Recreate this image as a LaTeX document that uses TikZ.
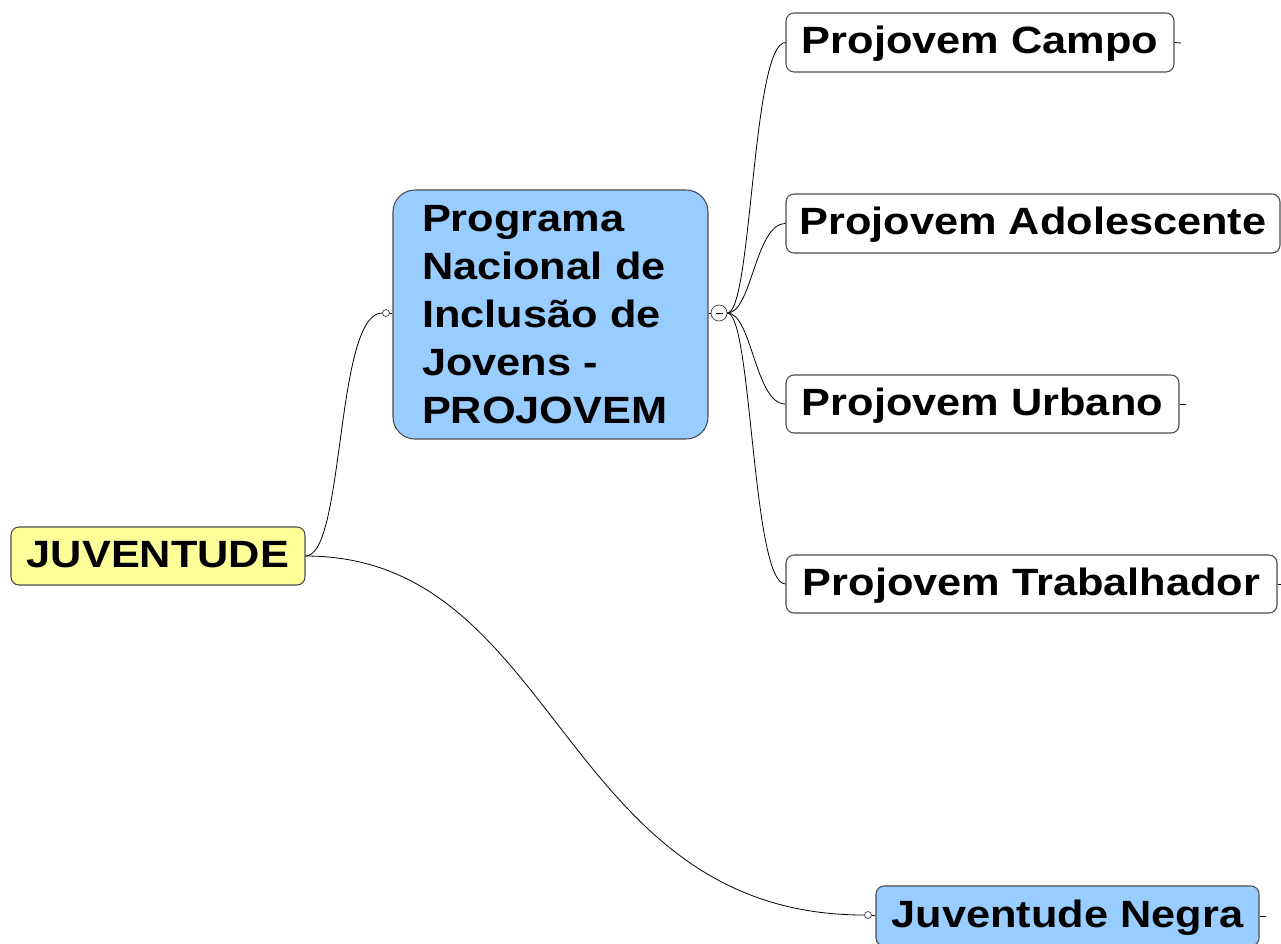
\documentclass[tikz,border=0pt]{standalone}
\usepackage{fontspec}
\setmainfont[FakeStretch=1.14]{Liberation Sans}
\begin{document}
\begin{tikzpicture}[x=0.75pt,y=-0.75pt,
  box/.style={draw=black!70, line width=0.8pt, rounded corners=8*0.75pt, inner sep=0pt,
     font=\fontsize{28.5}{36}\selectfont\bfseries},
  single/.style={box, text height=21.4pt, text depth=4.8pt},
  white/.style={single, fill=white},
  conn/.style={draw=black, line width=0.6pt},
  knob/.style={circle, draw=black!80, fill=white, line width=0.5pt, inner sep=0pt, minimum size=7*0.75pt},
]
\useasboundingbox (0,0) rectangle (1281,943);
\definecolor{nodeblue}{HTML}{99CCFF}
\definecolor{nodeyellow}{HTML}{FFFF99}

\node[single, fill=nodeyellow, minimum width=294*0.75pt, minimum height=58*0.75pt] (juv) at (158,556) {JUVENTUDE};

\node[box, fill=nodeblue, rounded corners=22*0.75pt, minimum width=315*0.75pt, minimum height=249*0.75pt,
      text width=257*0.75pt, align=left] (prog) at (550.5,314.5)
  {Programa\\Nacional de\\Inclusão de\\Jovens -\\PROJOVEM};

\node[white, minimum width=388*0.75pt, minimum height=59*0.75pt] (campo) at (980,42.5) {Projovem Campo};
\node[white, minimum width=494*0.75pt, minimum height=59*0.75pt] (adol) at (1033,223.5) {Projovem Adolescente};
\node[white, minimum width=393*0.75pt, minimum height=58*0.75pt] (urb) at (982.5,404) {Projovem Urbano};
\node[white, minimum width=491*0.75pt, minimum height=58*0.75pt] (trab) at (1031.5,584) {Projovem Trabalhador};
\node[single, fill=nodeblue, minimum width=383*0.75pt, minimum height=60*0.75pt] (negra) at (1067.5,916) {Juventude Negra};

% knobs
\node[knob] (k1) at (386,313) {};
\node[knob] (k2) at (868,915) {};
\node[circle, draw=black!80, fill=white, line width=0.5pt, inner sep=0pt, minimum size=16*0.75pt] (minus) at (719,313) {};
\draw[line width=0.7pt] ([xshift=-3.5*0.75pt]minus.center) -- ([xshift=3.5*0.75pt]minus.center);

% connectors
\draw[conn] (juv.east) .. controls (345,556) and (335,313) .. (k1.west);
\draw[conn] (k1.east) -- (prog.west |- k1.east);
\draw[conn] (juv.east) .. controls (560,556) and (560,915) .. (k2.west);
\draw[conn] (k2.east) -- (negra.west |- k2.east);
\draw[conn] (prog.east |- minus.west) -- (minus.west);
\draw[conn] (minus.east) .. controls (752,313) and (752,43) .. (campo.west);
\draw[conn] (minus.east) .. controls (752,313) and (755,224) .. (adol.west);
\draw[conn] (minus.east) .. controls (752,313) and (755,404) .. (urb.west);
\draw[conn] (minus.east) .. controls (752,313) and (752,584) .. (trab.west);

% end ticks
\coordinate (tc) at (1181,43);
\coordinate (tu) at (1186,404);
\coordinate (tn) at (1266,916);
\coordinate (tt) at (1281,584);
\draw[conn] (campo.east) -- (tc);
\draw[conn] (urb.east) -- (tu);
\draw[conn] (negra.east) -- (tn);
\draw[conn] (trab.east) -- (tt);
\end{tikzpicture}
\end{document}
